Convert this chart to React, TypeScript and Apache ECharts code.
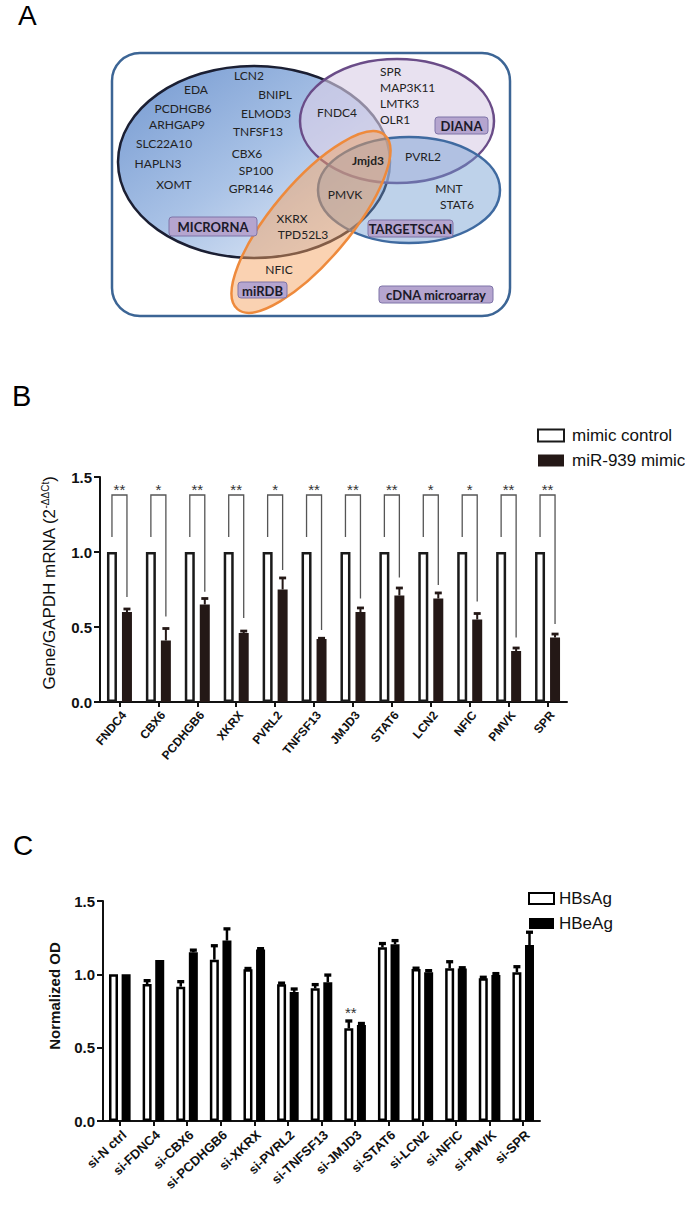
import React, { useEffect, useRef } from "react";
import * as echarts from "echarts";

// ---------- Panel B data ----------
const geneB = ["FNDC4", "CBX6", "PCDHGB6", "XKRX", "PVRL2", "TNFSF13", "JMJD3", "STAT6", "LCN2", "NFIC", "PMVK", "SPR"];
const controlB = [1, 1, 1, 1, 1, 1, 1, 1, 1, 1, 1, 1];
const mimicB = [0.6, 0.41, 0.65, 0.46, 0.75, 0.42, 0.6, 0.71, 0.69, 0.55, 0.34, 0.43];
const mimicErrTopB = [0.62, 0.49, 0.69, 0.473, 0.827, 0.425, 0.627, 0.76, 0.727, 0.59, 0.36, 0.453];
const sigB = ["**", "*", "**", "**", "*", "**", "**", "**", "*", "*", "**", "**"];
const bracketEndB = [0.7, 0.57, 0.735, 0.56, 0.88, 0.48, 0.69, 0.83, 0.78, 0.67, 0.43, 0.52];
const bracketStartB = 1.1;
const bracketTopB = 1.38;
const starLevelB = 1.42;
const yTicksB = { min: 0, max: 1.5, interval: 0.5 };

// ---------- Panel C data ----------
const siC = ["si-N ctrl", "si-FDNC4", "si-CBX6", "si-PCDHGB6", "si-XKRX", "si-PVRL2", "si-TNFSF13", "si-JMJD3", "si-STAT6", "si-LCN2", "si-NFIC", "si-PMVK", "si-SPR"];
const hbsC = [1.0, 0.934, 0.916, 1.1, 1.034, 0.932, 0.905, 0.632, 1.184, 1.036, 1.041, 0.973, 1.014];
const hbsErrTopC = [1.0, 0.957, 0.95, 1.195, 1.04, 0.94, 0.93, 0.682, 1.21, 1.042, 1.086, 0.98, 1.052];
const hbeC = [1.0, 1.097, 1.15, 1.23, 1.17, 0.88, 0.946, 0.654, 1.205, 1.014, 1.04, 0.995, 1.2];
const hbeErrTopC = [1.0, 1.1, 1.165, 1.31, 1.175, 0.9, 0.995, 0.665, 1.23, 1.025, 1.045, 1.005, 1.287];
const sigC = ["", "", "", "", "", "", "", "**", "", "", "", "", ""];
const sigLevelC = 0.743;
const yTicksC = { min: 0, max: 1.5, interval: 0.5 };

// ---------- Panel A (Venn) content ----------
const vennGenes = ["LCN2", "EDA", "BNIPL", "PCDHGB6", "ELMOD3", "ARHGAP9", "TNFSF13", "SLC22A10", "CBX6", "HAPLN3", "SP100", "XOMT", "GPR146", "FNDC4", "Jmjd3", "PMVK", "XKRX", "TPD52L3", "NFIC", "SPR", "MAP3K11", "LMTK3", "OLR1", "PVRL2", "MNT", "STAT6"];
const vennSets = ["MICRORNA", "miRDB", "TARGETSCAN", "DIANA", "cDNA microarray"];

// layout of venn texts (positions only)
const vennGenePos: [number, number, string][] = [
  [249, 75, "center"], [196, 89, "center"], [275, 94, "center"], [183, 108, "center"], [266, 113, "center"],
  [177, 124, "center"], [258, 131, "center"], [164, 143, "center"], [247, 153, "center"], [158, 163, "center"],
  [256, 170, "center"], [174, 184, "center"], [251, 188, "center"], [337, 112, "center"], [368, 160, "center"],
  [345, 194, "center"], [292, 218, "center"], [303, 234, "center"], [279, 269, "center"], [380, 71, "left"],
  [380, 87, "left"], [380, 103, "left"], [380, 119, "left"], [423, 156, "center"], [449, 188, "center"], [457, 204, "center"],
];
const vennBoxPos = [
  [169, 217, 88, 19], [238, 282, 49, 16], [368, 220, 85, 17], [435, 117, 53, 17], [379, 286, 114, 17],
];

const FONT = "Liberation Sans, Arial, sans-serif";
const VFONT = "Lato, Open Sans, sans-serif";

function errRender(offset: number, capW: number, lw: number, color: string) {
  return (params: any, api: any) => {
    const i = api.value(0);
    const base = api.coord([i, api.value(1)]);
    const top = api.coord([i, api.value(2)]);
    if (Math.abs(base[1] - top[1]) < 0.5) return { type: "group", children: [] };
    const x = base[0] + offset;
    return {
      type: "group",
      children: [
        { type: "line", shape: { x1: x, y1: base[1], x2: x, y2: top[1] }, style: { stroke: color, lineWidth: lw } },
        { type: "line", shape: { x1: x - capW / 2, y1: top[1], x2: x + capW / 2, y2: top[1] }, style: { stroke: color, lineWidth: lw + 0.8 } },
      ],
    };
  };
}

function buildGraphic(): any[] {
  const g: any[] = [];
  // panel letters
  g.push({ type: "text", x: 18, y: 15, style: { text: "A", fontSize: 28, fontFamily: FONT, fill: "#000", verticalAlign: "middle" } });
  g.push({ type: "text", x: 12, y: 396, style: { text: "B", fontSize: 29, fontFamily: FONT, fill: "#000", verticalAlign: "middle" } });
  g.push({ type: "text", x: 13, y: 845, style: { text: "C", fontSize: 28, fontFamily: FONT, fill: "#000", verticalAlign: "middle" } });

  // Venn
  g.push({ type: "rect", shape: { x: 112, y: 53, width: 398, height: 263, r: 28 }, style: { fill: "#fff", stroke: "#3c6595", lineWidth: 2.5 } });
  g.push({
    type: "ellipse",
    shape: { cx: 254, cy: 162, rx: 136, ry: 96 },
    style: {
      fill: new echarts.graphic.LinearGradient(0, 0, 1, 1, [
        { offset: 0, color: "#7398d0" },
        { offset: 0.5, color: "#a9c2e6" },
        { offset: 1, color: "#f0f4fb" },
      ]),
      stroke: "#1b1f33",
      lineWidth: 2.5,
    },
  });
  g.push({ type: "ellipse", shape: { cx: 397, cy: 121, rx: 97, ry: 62 }, style: { fill: "rgba(218,206,230,0.62)", stroke: "#6a4c88", lineWidth: 2.5 } });
  g.push({ type: "ellipse", shape: { cx: 409, cy: 190, rx: 91, ry: 53 }, style: { fill: "rgba(110,155,208,0.45)", stroke: "#3f6aa0", lineWidth: 2.5 } });
  g.push({ type: "ellipse", x: 311, y: 222, rotation: 0.87, shape: { cx: 0, cy: 0, rx: 114, ry: 39 }, style: { fill: "rgba(244,160,95,0.48)", stroke: "#ee8a3c", lineWidth: 2.5 } });

  vennBoxPos.forEach((b, i) => {
    g.push({ type: "rect", shape: { x: b[0], y: b[1], width: b[2], height: b[3], r: 3 }, style: { fill: "#b5a5cf", stroke: "#7f74a8", lineWidth: 1 } });
    g.push({ type: "text", x: b[0] + b[2] / 2, y: b[1] + b[3] / 2 + 0.5, style: { text: vennSets[i], fontSize: 13, fontWeight: "bold", fontFamily: VFONT, fill: "#1c1a2a", align: "center", verticalAlign: "middle" } });
  });
  vennGenes.forEach((t, i) => {
    const p = vennGenePos[i];
    g.push({ type: "text", x: p[0], y: p[1], style: { text: t, fontSize: 12, fontWeight: t === "Jmjd3" ? "bold" : "normal", fontFamily: VFONT, fill: "#222", align: p[2], verticalAlign: "middle" } });
  });

  // axis titles
  g.push({
    type: "text", x: 49, y: 583, rotation: Math.PI / 2,
    style: {
      text: "{a|Gene/GAPDH mRNA (2}{s|-ΔΔCt}{a|)}",
      align: "center", verticalAlign: "middle",
      rich: { a: { fontSize: 17, fontFamily: FONT, fill: "#111" }, s: { fontSize: 10, fontFamily: FONT, fill: "#111", verticalAlign: "top" } },
    },
  });
  g.push({ type: "text", x: 54, y: 996, rotation: Math.PI / 2, style: { text: "Normalized OD", fontSize: 15, fontWeight: "bold", fontFamily: FONT, fill: "#111", align: "center", verticalAlign: "middle" } });
  return g;
}

function axisCommon() {
  return {
    axisLine: { show: true, lineStyle: { color: "#111", width: 2 } },
    axisTick: { show: true, length: 6, lineStyle: { color: "#111", width: 2 } },
    splitLine: { show: false },
  };
}

function buildOption(): any {
  const offB = 7.5;
  const offC = 6.3;
  return {
    animation: false,
    backgroundColor: "#fff",
    graphic: buildGraphic(),
    grid: [
      { left: 100, top: 477, width: 467, height: 225 },
      { left: 103, top: 901, width: 437, height: 220 },
    ],
    legend: [
      {
        data: ["mimic control", "miR-939 mimic"], orient: "vertical", left: 532, top: 422, itemWidth: 26, itemHeight: 12, itemGap: 8,
        icon: "rect", selectedMode: false, textStyle: { fontSize: 17, color: "#111", fontFamily: FONT, padding: [0, 0, 0, 3] },
      },
      {
        data: ["HBsAg", "HBeAg"], orient: "vertical", left: 523, top: 885, itemWidth: 25, itemHeight: 11, itemGap: 8,
        icon: "rect", selectedMode: false, textStyle: { fontSize: 17, color: "#111", fontFamily: FONT, padding: [0, 0, 0, 0] },
      },
    ],
    xAxis: [
      {
        type: "category", gridIndex: 0, data: geneB, ...axisCommon(),
        axisTick: { show: true, alignWithLabel: true, length: 5, lineStyle: { color: "#111", width: 2 } },
        axisLabel: { interval: 0, rotate: 50, fontSize: 12, fontWeight: "bold", color: "#111", fontFamily: FONT, margin: 7, verticalAlign: "top" },
      },
      {
        type: "category", gridIndex: 1, data: siC, ...axisCommon(),
        axisTick: { show: true, alignWithLabel: true, length: 5, lineStyle: { color: "#111", width: 2 } },
        axisLabel: { interval: 0, rotate: 43, fontSize: 13, fontWeight: "bold", color: "#111", fontFamily: FONT, margin: 7, verticalAlign: "top" },
      },
    ],
    yAxis: [
      {
        type: "value", gridIndex: 0, ...yTicksB, ...axisCommon(),
        axisLabel: { formatter: (v: number) => v.toFixed(1), fontSize: 15, fontWeight: "bold", color: "#111", fontFamily: FONT, margin: 8 },
      },
      {
        type: "value", gridIndex: 1, ...yTicksC, ...axisCommon(),
        axisLabel: { formatter: (v: number) => v.toFixed(1), fontSize: 15, fontWeight: "bold", color: "#111", fontFamily: FONT, margin: 8 },
      },
    ],
    series: [
      {
        name: "mimic control", type: "bar", xAxisIndex: 0, yAxisIndex: 0, data: controlB, barWidth: 10, barGap: "50%",
        itemStyle: { color: "#fff", borderColor: "#1a1a1a", borderWidth: 2.5 },
      },
      {
        name: "miR-939 mimic", type: "bar", xAxisIndex: 0, yAxisIndex: 0, data: mimicB, barWidth: 10, barGap: "50%",
        itemStyle: { color: "#241816", borderColor: "#241816", borderWidth: 0 },
      },
      {
        type: "custom", xAxisIndex: 0, yAxisIndex: 0, silent: true,
        data: mimicB.map((v, i) => [i, v, mimicErrTopB[i]]),
        renderItem: errRender(offB, 7, 2, "#241816"), z: 3,
      },
      {
        type: "custom", xAxisIndex: 0, yAxisIndex: 0, silent: true,
        data: bracketEndB.map((v, i) => [i, v]),
        renderItem: (params: any, api: any) => {
          const i = api.value(0);
          const s = api.coord([i, bracketStartB]);
          const t = api.coord([i, bracketTopB]);
          const e = api.coord([i, api.value(1)]);
          const st = api.coord([i, starLevelB]);
          const xl = s[0] - offB;
          const xr = s[0] + offB;
          return {
            type: "group",
            children: [
              { type: "polyline", shape: { points: [[xl, s[1]], [xl, t[1]], [xr, t[1]], [xr, e[1]]] }, style: { stroke: "#555", lineWidth: 1.3, fill: "none" } },
              { type: "text", x: s[0], y: st[1], style: { text: sigB[i], fontSize: 15, fontFamily: FONT, fill: "#333", align: "center", verticalAlign: "middle" } },
            ],
          };
        },
        z: 3,
      },
      {
        name: "HBsAg", type: "bar", xAxisIndex: 1, yAxisIndex: 1, data: hbsC, barWidth: 9, barGap: "40%",
        itemStyle: { color: "#fff", borderColor: "#000", borderWidth: 2.5 },
      },
      {
        name: "HBeAg", type: "bar", xAxisIndex: 1, yAxisIndex: 1, data: hbeC, barWidth: 9, barGap: "40%",
        itemStyle: { color: "#000", borderColor: "#000", borderWidth: 0 },
      },
      {
        type: "custom", xAxisIndex: 1, yAxisIndex: 1, silent: true,
        data: hbsC.map((v, i) => [i, v, hbsErrTopC[i]]),
        renderItem: errRender(-offC, 7, 2.5, "#000"), z: 3,
      },
      {
        type: "custom", xAxisIndex: 1, yAxisIndex: 1, silent: true,
        data: hbeC.map((v, i) => [i, v, hbeErrTopC[i]]),
        renderItem: errRender(offC, 7, 2.5, "#000"), z: 3,
      },
      {
        type: "custom", xAxisIndex: 1, yAxisIndex: 1, silent: true,
        data: sigC.map((s, i) => [i, sigLevelC]),
        renderItem: (params: any, api: any) => {
          const i = api.value(0);
          if (!sigC[i]) return { type: "group", children: [] };
          const p = api.coord([i, api.value(1)]);
          return { type: "text", x: p[0] - offC + 2, y: p[1], style: { text: sigC[i], fontSize: 15, fontFamily: FONT, fill: "#333", align: "center", verticalAlign: "middle" } };
        },
        z: 3,
      },
    ],
  };
}

export default function App() {
  const ref = useRef<HTMLDivElement>(null);
  useEffect(() => {
    const chart = echarts.init(ref.current as HTMLDivElement, null, { renderer: "svg" });
    chart.setOption(buildOption());
    return () => chart.dispose();
  }, []);
  return <div ref={ref} style={{ position: "absolute", left: 0, top: 0, width: 685, height: 1209, background: "#fff" }} />;
}
